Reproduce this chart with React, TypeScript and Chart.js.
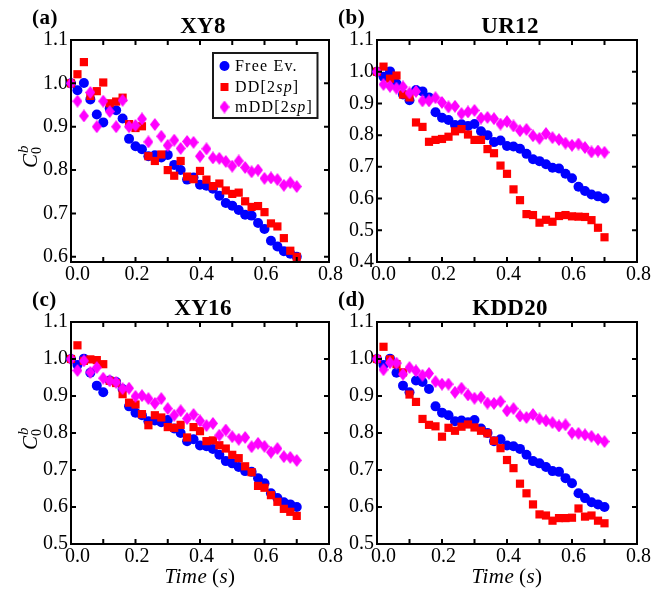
import React, { useEffect, useRef } from 'react';
import { Chart, registerables } from 'chart.js';
Chart.register(...registerables);

// ---------------- data ----------------
const TIME = [0, 0.02, 0.04, 0.06, 0.08, 0.10, 0.12, 0.14, 0.16, 0.18, 0.20, 0.22, 0.24, 0.26, 0.28, 0.30, 0.32, 0.34,
  0.36, 0.38, 0.40, 0.42, 0.44, 0.46, 0.48, 0.50, 0.52, 0.54, 0.56, 0.58, 0.60, 0.62, 0.64, 0.66, 0.68, 0.70];

const FREE_EV = [1.0, 0.984, 1.001, 0.963, 0.928, 0.910, 0.942, 0.938, 0.919, 0.872, 0.855, 0.848, 0.832, 0.834, 0.829, 0.835, 0.812, 0.800,
  0.778, 0.783, 0.766, 0.764, 0.757, 0.741, 0.724, 0.718, 0.708, 0.697, 0.695, 0.678, 0.664, 0.637, 0.624, 0.613, 0.607, 0.600];

const DD_XY8 = [1.0, 1.021, 1.049, 0.971, 0.982, 1.002, 0.954, 0.958, 0.967, 0.906, 0.897, 0.901, 0.832, 0.821, 0.836, 0.800, 0.787, 0.821,
  0.785, 0.779, 0.798, 0.778, 0.763, 0.769, 0.753, 0.745, 0.748, 0.728, 0.715, 0.717, 0.703, 0.677, 0.670, 0.643, 0.614, 0.600];
const MDD_XY8 = [1.0, 0.959, 0.925, 0.979, 0.900, 0.959, 0.935, 0.900, 0.961, 0.900, 0.903, 0.918, 0.865, 0.905, 0.878, 0.857, 0.869, 0.850,
  0.866, 0.864, 0.832, 0.849, 0.828, 0.827, 0.820, 0.809, 0.821, 0.806, 0.796, 0.800, 0.781, 0.782, 0.778, 0.765, 0.771, 0.762];

const DD_UR12 = [1.0, 1.016, 0.978, 0.988, 0.928, 0.919, 0.840, 0.826, 0.779, 0.785, 0.788, 0.795, 0.812, 0.819, 0.802, 0.785, 0.785, 0.756,
  0.743, 0.704, 0.678, 0.629, 0.595, 0.551, 0.548, 0.524, 0.533, 0.527, 0.545, 0.548, 0.544, 0.543, 0.542, 0.532, 0.508, 0.478];
const MDD_UR12 = [1.0, 0.960, 0.954, 0.948, 0.952, 0.933, 0.938, 0.908, 0.908, 0.918, 0.903, 0.889, 0.891, 0.868, 0.873, 0.878, 0.854, 0.856,
  0.852, 0.835, 0.843, 0.829, 0.814, 0.818, 0.798, 0.790, 0.805, 0.792, 0.786, 0.775, 0.768, 0.772, 0.761, 0.747, 0.750, 0.746];

const DD_XY16 = [1.0, 1.037, 0.995, 0.999, 0.997, 0.986, 0.941, 0.935, 0.905, 0.882, 0.877, 0.851, 0.821, 0.848, 0.842, 0.816, 0.814, 0.822,
  0.788, 0.816, 0.805, 0.778, 0.780, 0.767, 0.758, 0.741, 0.732, 0.710, 0.694, 0.657, 0.652, 0.632, 0.614, 0.595, 0.587, 0.576];
const MDD_XY16 = [1.0, 0.969, 0.995, 0.964, 0.977, 0.948, 0.941, 0.937, 0.920, 0.921, 0.899, 0.901, 0.893, 0.880, 0.893, 0.866, 0.848, 0.860,
  0.839, 0.850, 0.833, 0.820, 0.826, 0.794, 0.808, 0.790, 0.783, 0.788, 0.763, 0.772, 0.764, 0.748, 0.758, 0.736, 0.734, 0.726];

const DD_KDD20 = [1.0, 1.033, 0.999, 0.986, 0.964, 0.904, 0.884, 0.838, 0.822, 0.818, 0.790, 0.814, 0.806, 0.817, 0.823, 0.815, 0.806, 0.799,
  0.779, 0.759, 0.727, 0.705, 0.663, 0.637, 0.607, 0.580, 0.577, 0.563, 0.570, 0.570, 0.571, 0.596, 0.574, 0.577, 0.563, 0.556];
const MDD_KDD20 = [1.0, 0.971, 0.990, 0.989, 0.959, 0.977, 0.968, 0.956, 0.961, 0.939, 0.932, 0.932, 0.910, 0.921, 0.903, 0.894, 0.897, 0.881,
  0.880, 0.885, 0.860, 0.866, 0.846, 0.842, 0.850, 0.838, 0.833, 0.828, 0.819, 0.822, 0.800, 0.799, 0.795, 0.791, 0.783, 0.777];

const X_TICKS = [0, 0.1, 0.2, 0.3, 0.4, 0.5, 0.6, 0.7, 0.8];
const X_TICK_LABELS = ['\u20070.0', '', '0.2', '', '0.4', '', '0.6', '', '0.8'];
const Y_TICKS_A = [0.6, 0.7, 0.8, 0.9, 1.0, 1.1];
const Y_TICKS_B = [0.4, 0.5, 0.6, 0.7, 0.8, 0.9, 1.0, 1.1];
const Y_TICKS_CD = [0.5, 0.6, 0.7, 0.8, 0.9, 1.0, 1.1];

const SERIES_NAMES = ['Free Ev.', 'DD[2sp]', 'mDD[2sp]'];
const PANEL_TITLES = ['XY8', 'UR12', 'XY16', 'KDD20'];
const PANEL_LETTERS = ['(a)', '(b)', '(c)', '(d)'];

// ---------------- styles / layout ----------------
const W = 657;
const H = 591;
const Y_W = 45;
const X_H = 30;
const BLUE = '#0000ff';
const RED = '#ff0000';
const MAGENTA = '#ff00ff';
const SERIF = '"Liberation Serif", "Times New Roman", serif';

type Panel = {
  title: string; letter: string; dd: number[]; mdd: number[];
  yMin: number; yMax: number; yTicks: number[];
  area: { left: number; right: number; top: number; bottom: number };
  yLabel: boolean; xLabel: boolean; legend: boolean;
};

const PANELS: Panel[] = [
  { title: PANEL_TITLES[0], letter: PANEL_LETTERS[0], dd: DD_XY8, mdd: MDD_XY8, yMin: 0.588, yMax: 1.1, yTicks: Y_TICKS_A,
    area: { left: 71, right: 329, top: 40, bottom: 262 }, yLabel: true, xLabel: false, legend: true },
  { title: PANEL_TITLES[1], letter: PANEL_LETTERS[1], dd: DD_UR12, mdd: MDD_UR12, yMin: 0.4, yMax: 1.1, yTicks: Y_TICKS_B,
    area: { left: 377, right: 637, top: 40, bottom: 262 }, yLabel: false, xLabel: false, legend: false },
  { title: PANEL_TITLES[2], letter: PANEL_LETTERS[2], dd: DD_XY16, mdd: MDD_XY16, yMin: 0.5, yMax: 1.1, yTicks: Y_TICKS_CD,
    area: { left: 71, right: 329, top: 322, bottom: 544 }, yLabel: true, xLabel: true, legend: false },
  { title: PANEL_TITLES[3], letter: PANEL_LETTERS[3], dd: DD_KDD20, mdd: MDD_KDD20, yMin: 0.5, yMax: 1.1, yTicks: Y_TICKS_CD,
    area: { left: 377, right: 637, top: 322, bottom: 544 }, yLabel: false, xLabel: true, legend: false },
];

function makeDiamond(w: number, h: number, color: string) {
  const c = document.createElement('canvas');
  c.width = w; c.height = h;
  const g = c.getContext('2d')!;
  g.fillStyle = color;
  g.beginPath();
  g.moveTo(w / 2, 0); g.lineTo(w, h / 2); g.lineTo(w / 2, h); g.lineTo(0, h / 2);
  g.closePath(); g.fill();
  return c;
}

type Run = [string, string];
function drawRuns(ctx: CanvasRenderingContext2D, runs: Run[], x: number, y: number, align: 'left' | 'center', spacing = 0) {
  ctx.letterSpacing = spacing + 'px';
  let total = 0;
  const widths = runs.map(([t, f]) => { ctx.font = f; const w = ctx.measureText(t).width; total += w; return w; });
  let cx = align === 'center' ? x - total / 2 : x;
  ctx.textAlign = 'left';
  ctx.textBaseline = 'alphabetic';
  runs.forEach(([t, f], i) => { ctx.font = f; ctx.fillText(t, cx, y); cx += widths[i]; });
  ctx.letterSpacing = '0px';
}

function makeChart(canvas: HTMLCanvasElement, p: Panel, diamond: HTMLCanvasElement) {
  const pts = (arr: number[]) => TIME.map((t, i) => ({ x: t, y: arr[i] }));
  const frame = {
    id: 'frame' + p.letter,
    afterDraw(chart: any) {
      const ctx: CanvasRenderingContext2D = chart.ctx;
      const { left, right, top, bottom } = chart.chartArea;
      const xs = chart.scales.x, ys = chart.scales.y;
      ctx.save();
      ctx.strokeStyle = '#000';
      ctx.lineWidth = 2;
      ctx.strokeRect(left, top, right - left, bottom - top);
      ctx.beginPath();
      X_TICKS.forEach(v => {
        const px = xs.getPixelForValue(v);
        ctx.moveTo(px, bottom); ctx.lineTo(px, bottom - 5);
        ctx.moveTo(px, top); ctx.lineTo(px, top + 5);
      });
      p.yTicks.forEach(v => {
        const py = ys.getPixelForValue(v);
        ctx.moveTo(left, py); ctx.lineTo(left + 5, py);
        ctx.moveTo(right, py); ctx.lineTo(right - 5, py);
      });
      ctx.stroke();

      ctx.fillStyle = '#000';
      // panel letter + title
      drawRuns(ctx, [[p.letter, `bold 21px ${SERIF}`]], left - 39, top - 16, 'left', 0.5);
      drawRuns(ctx, [[p.title, `bold 23px ${SERIF}`]], (left + right) / 2 + 3, top - 7, 'center', 0.3);

      if (p.yLabel) {
        ctx.save();
        ctx.translate(37, (top + bottom) / 2 + 17);
        ctx.rotate(-Math.PI / 2);
        ctx.font = `italic 21px ${SERIF}`;
        ctx.textBaseline = 'alphabetic';
        ctx.textAlign = 'left';
        ctx.fillText('C', 0, 0);
        const cw = ctx.measureText('C').width;
        ctx.font = `italic 15px ${SERIF}`;
        ctx.fillText('b', cw + 1, -9);
        ctx.font = `14px ${SERIF}`;
        ctx.fillText('0', cw, 4);
        ctx.restore();
      }
      if (p.xLabel) {
        drawRuns(ctx, [
          ['Time', `italic 21px ${SERIF}`], ['\u2009(', `21px ${SERIF}`], ['s', `italic 21px ${SERIF}`], [')', `21px ${SERIF}`],
        ], (left + right) / 2, 583, 'center', 0.5);
      }
      if (p.legend) {
        const bx = right - 116, by = top + 13, bw = 104.5, bh = 65;
        ctx.fillStyle = '#fff';
        ctx.fillRect(bx, by, bw, bh);
        ctx.strokeStyle = '#1a1a1a';
        ctx.lineWidth = 2;
        ctx.strokeRect(bx, by, bw, bh);
        const mx = bx + 11.5;
        const rows = [by + 13, by + 34, by + 54];
        ctx.fillStyle = BLUE;
        ctx.beginPath(); ctx.arc(mx, rows[0], 5, 0, Math.PI * 2); ctx.fill();
        ctx.fillStyle = RED;
        ctx.fillRect(mx - 4, rows[1] - 4, 8, 8);
        ctx.drawImage(diamond, mx - diamond.width / 2, rows[2] - diamond.height / 2);
        ctx.fillStyle = '#000';
        const tx = bx + 22;
        const f = `16px ${SERIF}`, fi = `italic 16px ${SERIF}`;
        drawRuns(ctx, [[SERIES_NAMES[0], f]], tx, rows[0] + 5, 'left', 1.2);
        drawRuns(ctx, [['DD[2', f], ['sp', fi], [']', f]], tx, rows[1] + 5, 'left', 1.2);
        drawRuns(ctx, [['mDD[2', f], ['sp', fi], [']', f]], tx, rows[2] + 5, 'left', 1.2);
      }
      ctx.restore();
    },
  };

  return new Chart(canvas, {
    type: 'scatter',
    data: {
      datasets: [
        { label: SERIES_NAMES[2], data: pts(p.mdd), pointStyle: diamond as any, pointRadius: 6, backgroundColor: MAGENTA, borderWidth: 0, clip: false as any },
        { label: SERIES_NAMES[1], data: pts(p.dd), pointStyle: 'rect', pointRadius: 5.8, backgroundColor: RED, borderWidth: 0, clip: false as any },
        { label: SERIES_NAMES[0], data: pts(FREE_EV), pointStyle: 'circle', pointRadius: 5, backgroundColor: BLUE, borderWidth: 0, clip: false as any },
      ],
    },
    options: {
      responsive: false,
      animation: false,
      events: [],
      layout: {
        padding: {
          left: p.area.left - Y_W,
          right: W - p.area.right,
          top: p.area.top,
          bottom: H - p.area.bottom - X_H,
        },
      },
      plugins: { legend: { display: false }, tooltip: { enabled: false }, title: { display: false } },
      scales: {
        x: {
          type: 'linear', min: 0, max: 0.8,
          afterBuildTicks: (s: any) => { s.ticks = X_TICKS.map(v => ({ value: v })); },
          afterFit: (s: any) => { s.height = X_H; },
          grid: { display: false, drawTicks: false },
          border: { display: false },
          ticks: {
            autoSkip: false, maxRotation: 0, minRotation: 0, padding: 1, labelOffset: 1.5, color: '#000',
            font: { family: SERIF, size: 20 },
            callback: (_v: any, i: number) => X_TICK_LABELS[i],
          },
        },
        y: {
          type: 'linear', min: p.yMin, max: p.yMax,
          afterBuildTicks: (s: any) => { s.ticks = p.yTicks.map(v => ({ value: v })); },
          afterFit: (s: any) => { s.width = Y_W; },
          grid: { display: false, drawTicks: false },
          border: { display: false },
          ticks: {
            autoSkip: false, padding: 3, color: '#000',
            font: { family: SERIF, size: 20 },
            callback: (v: any) => Number(v).toFixed(1),
          },
        },
      },
    } as any,
    plugins: [frame],
  });
}

function PanelCanvas({ p }: { p: Panel }) {
  const ref = useRef<HTMLCanvasElement>(null);
  useEffect(() => {
    const diamond = makeDiamond(10, 13, MAGENTA);
    const chart = makeChart(ref.current!, p, diamond);
    return () => chart.destroy();
  }, [p]);
  return (
    <canvas ref={ref} width={W} height={H}
      style={{ position: 'absolute', left: 0, top: 0, width: W, height: H }} />
  );
}

export default function App() {
  return (
    <div style={{ position: 'absolute', left: 0, top: 0, width: W, height: H, background: '#fff' }}>
      {PANELS.map(p => <PanelCanvas key={p.letter} p={p} />)}
    </div>
  );
}
